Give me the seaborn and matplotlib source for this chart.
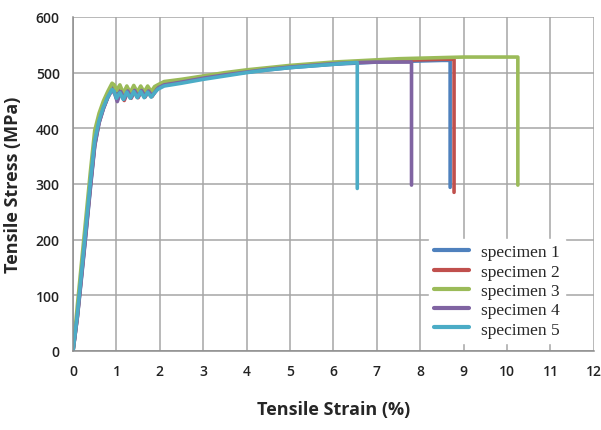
import matplotlib
matplotlib.use("Agg")
import matplotlib.pyplot as plt
import seaborn as sns
import pandas as pd

# ---- data ----
names = ["specimen 1", "specimen 2", "specimen 3", "specimen 4", "specimen 5"]
colors = ["#4F81BD", "#C0504D", "#9BBB59", "#8064A2", "#4BACC6"]

s1_x = [0, 0.1, 0.2, 0.3, 0.4, 0.5, 0.6, 0.7, 0.8, 0.9, 0.95, 1.0, 1.08, 1.16, 1.24, 1.32, 1.4, 1.48, 1.56,
        1.64, 1.72, 1.8, 1.88, 1.95, 2.1, 2.5, 3.0, 3.5, 4.0, 4.5, 5.0, 5.5, 6.0, 6.5, 7.0, 7.5, 8.0, 8.5, 8.69, 8.69]
s1_y = [0, 60, 135, 212, 292, 368, 410, 436, 456, 474, 470, 455, 470, 452, 468, 455, 470, 456, 470,
        457, 469, 458, 468, 472, 478, 483, 490, 496, 501, 505, 509, 512, 515, 517, 519, 520, 521, 522, 522, 294]

s2_x = [0, 0.1, 0.2, 0.3, 0.4, 0.5, 0.6, 0.7, 0.8, 0.9, 0.96, 1.02, 1.1, 1.18, 1.26, 1.34, 1.42, 1.5, 1.58,
        1.66, 1.74, 1.82, 1.9, 1.97, 2.1, 2.5, 3.0, 3.5, 4.0, 4.5, 5.0, 5.5, 6.0, 6.5, 7.0, 7.5, 8.0, 8.5, 8.78, 8.78]
s2_y = [0, 62, 140, 218, 298, 372, 412, 437, 456, 471, 466, 452, 468, 450, 466, 454, 468, 455, 469,
        456, 468, 457, 467, 474, 479, 484, 491, 497, 502, 507, 511, 514, 517, 519, 521, 522, 523, 524, 524, 285]

s3_x = [0, 0.1, 0.2, 0.3, 0.4, 0.5, 0.6, 0.7, 0.8, 0.9, 0.95, 1.0, 1.08, 1.16, 1.24, 1.32, 1.4, 1.48, 1.56,
        1.64, 1.72, 1.8, 1.88, 1.95, 2.1, 2.5, 3.0, 3.5, 4.0, 4.5, 5.0, 5.5, 6.0, 6.5, 7.0, 7.5, 8.0, 8.5, 9.0,
        9.5, 10.0, 10.25, 10.25]
s3_y = [0, 82, 162, 242, 322, 396, 427, 449, 466, 481, 478, 468, 478, 463, 476, 464, 477, 465, 476,
        465, 476, 466, 475, 478, 484, 488, 494, 500, 505, 509, 513, 516, 519, 521, 523, 525, 526, 527, 528,
        528, 528, 528, 298]

s4_x = [0, 0.1, 0.2, 0.3, 0.4, 0.5, 0.6, 0.7, 0.8, 0.9, 0.96, 1.02, 1.1, 1.18, 1.26, 1.34, 1.42, 1.5, 1.58,
        1.66, 1.74, 1.82, 1.9, 1.97, 2.1, 2.5, 3.0, 3.5, 4.0, 4.5, 5.0, 5.5, 6.0, 6.5, 7.0, 7.5, 7.8, 7.8]
s4_y = [0, 62, 138, 215, 295, 370, 410, 435, 455, 469, 462, 448, 466, 452, 467, 455, 468, 456, 468,
        457, 467, 458, 466, 473, 478, 483, 490, 496, 501, 506, 510, 513, 516, 518, 519, 519, 519, 298]

s5_x = [0, 0.1, 0.2, 0.3, 0.4, 0.5, 0.6, 0.7, 0.8, 0.9, 0.95, 1.0, 1.08, 1.16, 1.24, 1.32, 1.4, 1.48, 1.56,
        1.64, 1.72, 1.8, 1.88, 1.95, 2.1, 2.5, 3.0, 3.5, 4.0, 4.5, 5.0, 5.5, 6.0, 6.3, 6.55, 6.55]
s5_y = [0, 66, 145, 225, 304, 378, 414, 438, 456, 470, 466, 454, 464, 452, 465, 454, 466, 455, 466,
        455, 465, 456, 464, 470, 476, 481, 488, 494, 500, 505, 509, 512, 515, 517, 518, 292]

xs = [s1_x, s2_x, s3_x, s4_x, s5_x]
ys = [s1_y, s2_y, s3_y, s4_y, s5_y]

rows = []
for n, x, y in zip(names, xs, ys):
    for i, (a, b) in enumerate(zip(x, y)):
        rows.append({"specimen": n, "strain": a, "stress": b, "order": i})
df = pd.DataFrame(rows)

sns.set_theme(style="white")
plt.rcParams["font.family"] = ["Open Sans", "DejaVu Sans"]

fig = plt.figure(figsize=(6.01, 4.31), dpi=100)
ax = fig.add_axes([0.1215, 0.1833, 0.8665, 0.775])

sns.lineplot(data=df, x="strain", y="stress", hue="specimen", hue_order=names,
             palette=colors, sort=False, estimator=None, linewidth=2.6, ax=ax)

ax.set_xlim(0, 12)
ax.set_ylim(0, 600)
ax.set_xticks(range(0, 13))
ax.set_yticks(range(0, 601, 100))
ax.grid(True, color="#a6a6a6", linewidth=1.1)
ax.set_axisbelow(True)
for side in ["top", "right"]:
    ax.spines[side].set_visible(False)
for side in ["left", "bottom"]:
    ax.spines[side].set_color("#8c8c8c")
    ax.spines[side].set_linewidth(1.1)
ax.tick_params(axis="both", direction="inout", length=7, width=1, color="#8c8c8c",
               labelsize=10, labelcolor="#222222", pad=6)
for lab in ax.get_xticklabels() + ax.get_yticklabels():
    lab.set_fontweight("semibold")

ax.set_xlabel("Tensile Strain (%)", fontsize=13, fontweight="bold", labelpad=16)
ax.set_ylabel("Tensile Stress (MPa)", fontsize=13, fontweight="bold", labelpad=10)

leg = ax.legend(loc="upper left", bbox_to_anchor=(0.683, 0.335), frameon=True,
                prop={"family": "Liberation Serif", "size": 12.5},
                handlelength=2.0, labelspacing=0.18, borderpad=0.3, handletextpad=0.7,
                fancybox=False, borderaxespad=0)
leg.get_frame().set_edgecolor("white")
leg.get_frame().set_facecolor("white")
leg.get_frame().set_alpha(1)
for line in leg.get_lines():
    line.set_linewidth(3)

fig.savefig("out.png", dpi=100)
